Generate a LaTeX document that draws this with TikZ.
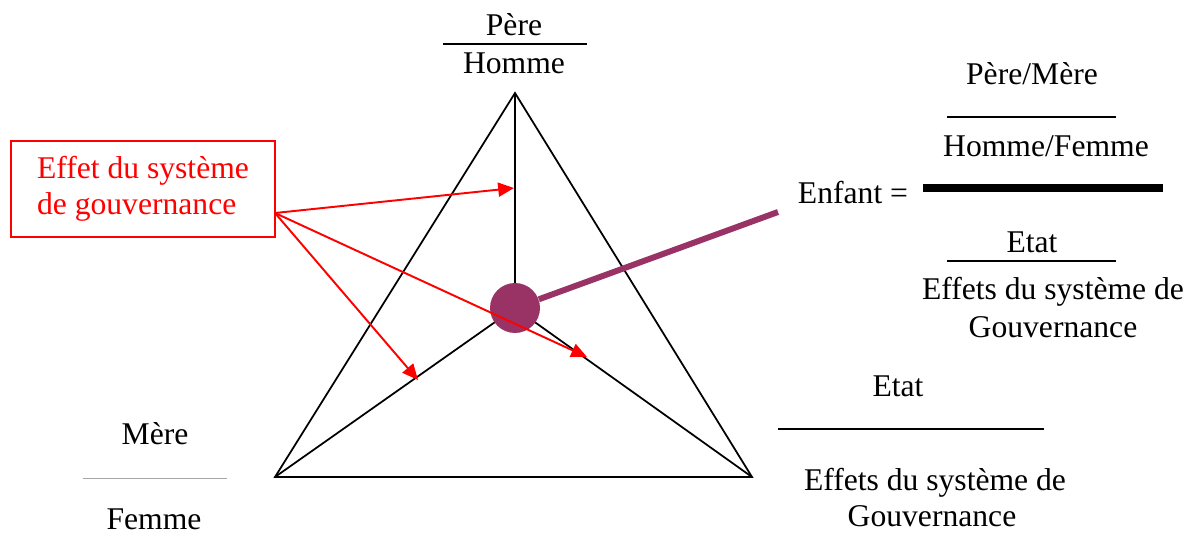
\documentclass[tikz,border=0pt]{standalone}
\usepackage{fontspec}
\setmainfont{Liberation Serif}
\usepackage{xcolor}
\usetikzlibrary{arrows.meta,positioning,calc}
\definecolor{plum}{RGB}{153,51,102}
\tikzset{
  lbl/.style={font=\fontsize{18}{20.5}\selectfont, inner sep=0pt, anchor=base},
  effbox/.style={
    rectangle, draw=red, line width=1.1pt, text=red,
    minimum width=5.28cm, minimum height=1.92cm, inner xsep=0.42cm,
    align=left, font=\fontsize{18}{20.5}\selectfont
  },
  tri/.style={line width=1pt, draw=black},
  fbar/.style={line width=1.1pt},
  fbarthick/.style={line width=4.5pt},
  fbarthin/.style={line width=0.5pt, draw=gray!70},
  redarrow/.style={-{Triangle[length=9pt,width=8pt]}, draw=red, fill=red, line width=1.1pt},
  kid/.style={circle, fill=plum, minimum size=1cm, inner sep=0pt},
  kidline/.style={draw=plum, line width=3.4pt},
}

\begin{document}
\begin{tikzpicture}[x=0.02cm, y=-0.02cm]
  \useasboundingbox (0,0) rectangle (1196,534);

  \coordinate (apex) at (515,93);
  \coordinate (bl) at (275,477);
  \coordinate (br) at (752,477);
  \coordinate (ctr) at (515,308);
  \draw[tri] (apex) -- (bl) -- (br) -- cycle;
  \draw[tri] (ctr) -- (apex); \draw[tri] (ctr) -- (bl); \draw[tri] (ctr) -- (br);

  \node (pere) [lbl] at (514,35) {Père};
  \node (homme) [lbl] at (514,73) {Homme};
  \draw[fbar] (443,44) -- (587,44);

  \node (mere) [lbl] at (155,444) {Mère};
  \node (femme) [lbl] at (154,529) {Femme};
  \draw[fbarthin] (83,478) -- (227,478);

  \node (etat) [lbl] at (898,396) {Etat};
  \draw[fbar] (778,429) -- (1044,429);
  \node (effets) [lbl] at (935,490) {Effets du système de};
  \node (gouv) [lbl] at (932,526) {Gouvernance};

  \node (enfant) [kid] at (ctr) {};
  \coordinate (eq) at (778,212);
  \draw[kidline] (enfant) -- (eq);

  \node (enf) [lbl] at (853,203) {Enfant =};
  \node (pm) [lbl] at (1032,84) {Père/Mère};
  \draw[fbar] (947,117) -- (1116,117);
  \node (hf) [lbl] at (1046,156) {Homme/Femme};
  \draw[fbarthick] (923,188) -- (1163,188);
  \node (etatb) [lbl] at (1032,252) {Etat};
  \draw[fbar] (947,261) -- (1116,261);
  \node (effetsb) [lbl] at (1053,299) {Effets du système de};
  \node (gouvb) [lbl] at (1053,337) {Gouvernance};

  \node (effet) [effbox] at (143,189) {Effet du système\\de gouvernance};
  \coordinate (src) at (275,213);
  \coordinate (t1) at (514,188);
  \coordinate (t2) at (418,380);
  \coordinate (t3) at (587,357);
  \draw[redarrow] (src) -- (t1);
  \draw[redarrow] (src) -- (t2);
  \draw[redarrow] (src) -- (t3);
\end{tikzpicture}
\end{document}
